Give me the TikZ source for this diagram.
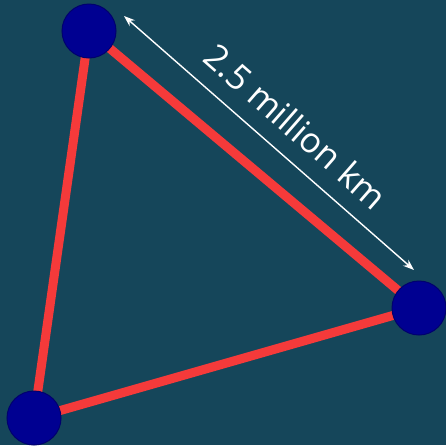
\documentclass[tikz,border=0pt]{standalone}
\usepackage{fontspec}
\setmainfont{Open Sans}
\usetikzlibrary{arrows.meta}
\definecolor{bg}{RGB}{21,70,90}
\definecolor{linkred}{RGB}{245,58,58}
\definecolor{planet}{RGB}{0,0,145}
\definecolor{planetedge}{RGB}{0,0,110}
\tikzset{
  planetnode/.style={circle, fill=planet, draw=planetedge, line width=1pt, minimum size=54pt, inner sep=0pt},
  link/.style={linkred, line width=9pt},
  dimline/.style={white, line width=1.4pt, {Stealth[length=11pt,width=8pt]}-{Stealth[length=11pt,width=8pt]}},
  dimlabel/.style={sloped, above=12pt, text=white, font=\fontsize{35}{42}\selectfont, inner sep=4pt}
}
\begin{document}
\begin{tikzpicture}[x=1pt,y=-1pt]
\fill[bg] (0,0) rectangle (446,445);
\useasboundingbox (0,0) rectangle (446,445);
\coordinate (pa) at (89,31);
\coordinate (pb) at (419,308);
\coordinate (pc) at (34,418);
\draw[link] (pa) -- (pb);
\draw[link] (pb) -- (pc);
\draw[link] (pc) -- (pa);
\node[planetnode] (a) at (pa) {};
\node[planetnode] (b) at (pb) {};
\node[planetnode] (c) at (pc) {};
\coordinate (ds) at (124,16);
\coordinate (de) at (414,270);
\draw[dimline] (ds) -- node[dimlabel, pos=0.524] (lbl) {2.5 million km} (de);
\end{tikzpicture}
\end{document}
